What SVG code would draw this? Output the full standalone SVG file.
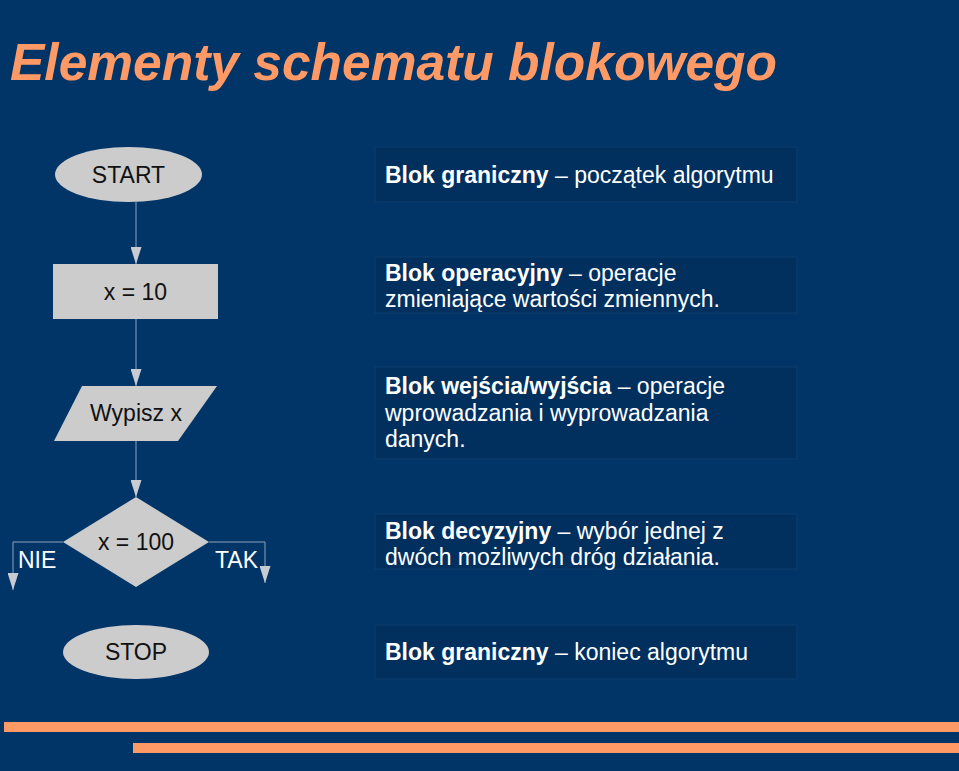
<svg xmlns="http://www.w3.org/2000/svg" width="959" height="771" viewBox="0 0 959 771">
<defs>
<marker id="ah" markerWidth="17" markerHeight="11" refX="17" refY="5.5" orient="auto" markerUnits="userSpaceOnUse" viewBox="0 0 17 11">
<path d="M0,0 L17,5.5 L0,11 Z" fill="#c8ccd2"/>
</marker>
</defs>
<style>
.shape{fill:#cccccc;stroke:none}
.lbl{font-family:"Liberation Sans",Arial,sans-serif;font-size:23px;fill:#111111;text-anchor:middle}
.wl{font-family:"Liberation Sans",Arial,sans-serif;font-size:23px;fill:#ffffff}
.box{fill:#01305f;stroke:#0c3c6e;stroke-width:1}
.desc{font-family:"Liberation Sans",Arial,sans-serif;font-size:23px;fill:#ffffff}
.desc .b{font-weight:bold}
.conn{fill:none;stroke:#8ca2bd;stroke-width:1}
.bar{fill:#ff9966}
</style>
<rect x="0" y="0" width="959" height="771" fill="#023567"/>
<text x="10" y="80" font-family="'Liberation Sans',Arial,sans-serif" font-size="51.5" font-weight="bold" font-style="italic" fill="#ff9966">Elementy schematu blokowego</text>

<g id="connectors">
<path class="conn" d="M136,202 V264" marker-end="url(#ah)"/>
<path class="conn" d="M136,319 V386" marker-end="url(#ah)"/>
<path class="conn" d="M136,441 V497" marker-end="url(#ah)"/>
<path class="conn" d="M63,542 H13 V590" marker-end="url(#ah)"/>
<path class="conn" d="M209,542 H265 V583" marker-end="url(#ah)"/>
</g>

<g id="start">
<ellipse class="shape" cx="128.5" cy="174.5" rx="73.5" ry="27.5"/>
<text class="lbl" x="128.5" y="182.5">START</text>
</g>
<g id="op">
<rect class="shape" x="53" y="264" width="165" height="55"/>
<text class="lbl" x="135.5" y="300">x = 10</text>
</g>
<g id="io">
<polygon class="shape" points="82,386 217,386 178,441 54,441"/>
<text class="lbl" x="136" y="421">Wypisz x</text>
</g>
<g id="decision">
<polygon class="shape" points="136,497 209,542 136,587 63,542"/>
<text class="lbl" x="136" y="550">x = 100</text>
<text class="wl" x="18" y="568">NIE</text>
<text class="wl" x="215" y="568">TAK</text>
</g>
<g id="stop">
<ellipse class="shape" cx="136" cy="652" rx="73" ry="27"/>
<text class="lbl" x="136" y="660">STOP</text>
</g>

<g id="desc1">
<rect class="box" x="375" y="147" width="422" height="55"/>
<text class="desc" x="385" y="182.5"><tspan class="b">Blok graniczny</tspan> – początek algorytmu</text>
</g>
<g id="desc2">
<rect class="box" x="375" y="257" width="422" height="56"/>
<text class="desc" x="385" y="281"><tspan class="b">Blok operacyjny</tspan> – operacje</text>
<text class="desc" x="385" y="307">zmieniające wartości zmiennych.</text>
</g>
<g id="desc3">
<rect class="box" x="375" y="367" width="422" height="92"/>
<text class="desc" x="385" y="394"><tspan class="b">Blok wejścia/wyjścia</tspan> – operacje</text>
<text class="desc" x="385" y="420.5">wprowadzania i wyprowadzania</text>
<text class="desc" x="385" y="447">danych.</text>
</g>
<g id="desc4">
<rect class="box" x="375" y="514" width="422" height="55"/>
<text class="desc" x="385" y="539"><tspan class="b">Blok decyzyjny</tspan> – wybór jednej z</text>
<text class="desc" x="385" y="565">dwóch możliwych dróg działania.</text>
</g>
<g id="desc5">
<rect class="box" x="375" y="625" width="422" height="54"/>
<text class="desc" x="385" y="659.5"><tspan class="b">Blok graniczny</tspan> – koniec algorytmu</text>
</g>

<rect class="bar" x="4" y="722" width="955" height="10"/>
<rect class="bar" x="133" y="743" width="826" height="10"/>
</svg>
